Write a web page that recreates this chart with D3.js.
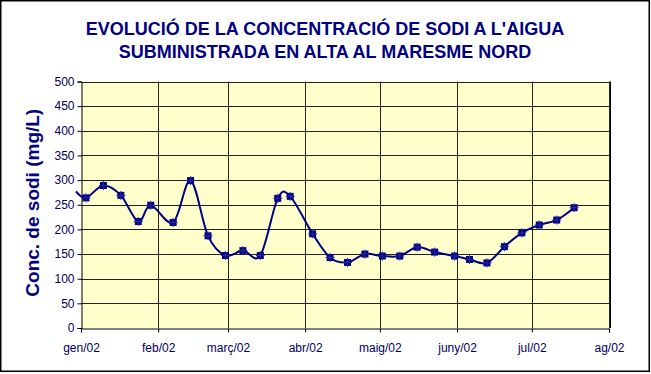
<!DOCTYPE html>
<html>
<head>
<meta charset="utf-8">
<script src="https://cdn.jsdelivr.net/npm/d3@7"></script>
<style>
  body { margin: 0; background: #fff; }
  svg { display: block; font-family: "Liberation Sans", Arial, sans-serif; }
</style>
</head>
<body>
<svg id="chart" width="651" height="374"></svg>
<script>
// sampling dates (first one falls just before the axis start)
const dates = ["2001-12-30", "2002-01-03", "2002-01-10", "2002-01-17", "2002-01-24", "2002-01-29",
  "2002-02-07", "2002-02-14", "2002-02-21", "2002-02-28", "2002-03-07", "2002-03-14",
  "2002-03-21", "2002-03-26", "2002-04-04", "2002-04-11", "2002-04-18", "2002-04-25",
  "2002-05-02", "2002-05-09", "2002-05-16", "2002-05-23", "2002-05-31", "2002-06-06",
  "2002-06-13", "2002-06-20", "2002-06-27", "2002-07-04", "2002-07-11", "2002-07-18"];
// sodium concentration, mg/L
const sodi = [277, 264, 289, 269, 216, 249,
  214, 299, 187, 147, 157, 147,
  263, 267, 191, 143, 133, 150,
  146, 146, 164, 154, 146, 139,
  132, 165, 193, 209, 219, 244];
const monthTicks = ["2002-01-01", "2002-02-01", "2002-03-01", "2002-04-01",
  "2002-05-01", "2002-06-01", "2002-07-01", "2002-08-01"];
const monthLabels = ["gen/02", "feb/02", "març/02", "abr/02", "maig/02", "juny/02", "jul/02", "ag/02"];
const yTicks = d3.range(0, 501, 50);

const parse = d3.timeParse("%Y-%m-%d");
const data = dates.map((d, i) => ({ date: parse(d), value: sodi[i] }));
const ticks = monthTicks.map(parse);

const navy = "#000080";
const plot = { left: 81, right: 609, top: 81.5, bottom: 328 };

const svg = d3.select("#chart");

// outer frame
svg.append("rect")
  .attr("x", 0.75).attr("y", 0.75)
  .attr("width", 648.5).attr("height", 370.5)
  .attr("fill", "#fff").attr("stroke", "#000").attr("stroke-width", 1.5);

const x = d3.scaleTime()
  .domain([ticks[0], ticks[ticks.length - 1]])
  .range([plot.left, plot.right]);

const y = d3.scaleLinear()
  .domain([0, 500])
  .range([plot.bottom, plot.top]);

// plot area
svg.append("rect")
  .attr("x", plot.left).attr("y", plot.top)
  .attr("width", plot.right - plot.left + 1).attr("height", plot.bottom - plot.top)
  .attr("fill", "#ffffcc");

// gridlines
svg.append("g")
  .selectAll("line.h")
  .data(yTicks.slice(1))
  .enter().append("line")
  .attr("x1", plot.left).attr("x2", plot.right + 1)
  .attr("y1", d => Math.round(y(d)) + 0.5).attr("y2", d => Math.round(y(d)) + 0.5)
  .attr("stroke", "#222").attr("stroke-width", 1);

svg.append("g")
  .selectAll("line.v")
  .data(ticks.slice(1))
  .enter().append("line")
  .attr("x1", d => Math.round(x(d)) + 0.5).attr("x2", d => Math.round(x(d)) + 0.5)
  .attr("y1", plot.top).attr("y2", plot.bottom)
  .attr("stroke", "#222").attr("stroke-width", 1);

// right border of plot area
svg.append("line")
  .attr("x1", plot.right + 1.5).attr("x2", plot.right + 1.5)
  .attr("y1", plot.top).attr("y2", plot.bottom)
  .attr("stroke", "#000");

// axes
const yAxis = svg.append("g")
  .attr("transform", `translate(${plot.left + 0.5},0)`)
  .call(d3.axisLeft(y).tickValues(yTicks).tickSize(4).tickPadding(3));
yAxis.select(".domain").attr("stroke", "#000");
yAxis.selectAll("line").attr("stroke", "#000");
yAxis.selectAll("text")
  .attr("fill", "#000060")
  .style("font-size", "12px")
  .style("font-family", "'Liberation Sans', Arial, sans-serif");

const xAxis = svg.append("g")
  .attr("transform", `translate(0,${plot.bottom + 0.5})`)
  .call(d3.axisBottom(x).tickValues(ticks).tickSize(4).tickPadding(11)
    .tickFormat((d, i) => monthLabels[i]));
xAxis.select(".domain").attr("stroke", "#000");
xAxis.selectAll("line").attr("stroke", "#000");
xAxis.selectAll("text")
  .attr("fill", "#000060")
  .style("font-size", "12px")
  .style("font-family", "'Liberation Sans', Arial, sans-serif");

// series line
const line = d3.line()
  .x(d => x(d.date))
  .y(d => y(d.value))
  .curve(d3.curveCatmullRom.alpha(0));

svg.append("path")
  .datum(data)
  .attr("d", line)
  .attr("fill", "none")
  .attr("stroke", navy)
  .attr("stroke-width", 2);

// markers (only those inside the axis range)
const inside = data.filter(d => d.date >= ticks[0]);
const mk = svg.append("g");
mk.selectAll("rect")
  .data(inside)
  .enter().append("rect")
  .attr("x", d => x(d.date) - 3.5)
  .attr("y", d => y(d.value) - 3.5)
  .attr("width", 7).attr("height", 7)
  .attr("fill", navy);
mk.selectAll("path")
  .data(inside)
  .enter().append("path")
  .attr("d", d => {
    const cx = x(d.date), cy = y(d.value);
    return `M${cx},${cy - 4.5}L${cx},${cy + 4.5}M${cx - 4.5},${cy}L${cx + 4.5},${cy}`;
  })
  .attr("stroke", "#2a2aa0").attr("stroke-width", 1);

// title
const title = svg.append("text")
  .attr("text-anchor", "middle")
  .attr("fill", navy)
  .style("font-size", "18px")
  .style("font-weight", "bold");
title.append("tspan").attr("x", 325).attr("y", 35).text("EVOLUCIÓ DE LA CONCENTRACIÓ DE SODI A L'AIGUA");
title.append("tspan").attr("x", 325).attr("y", 58).text("SUBMINISTRADA EN ALTA AL MARESME NORD");

// y axis title
svg.append("text")
  .attr("transform", `translate(39,${(plot.top + plot.bottom) / 2 - 2}) rotate(-90)`)
  .attr("text-anchor", "middle")
  .attr("fill", navy)
  .style("font-size", "19px")
  .style("font-weight", "bold")
  .text("Conc. de sodi (mg/L)");
</script>
</body>
</html>
